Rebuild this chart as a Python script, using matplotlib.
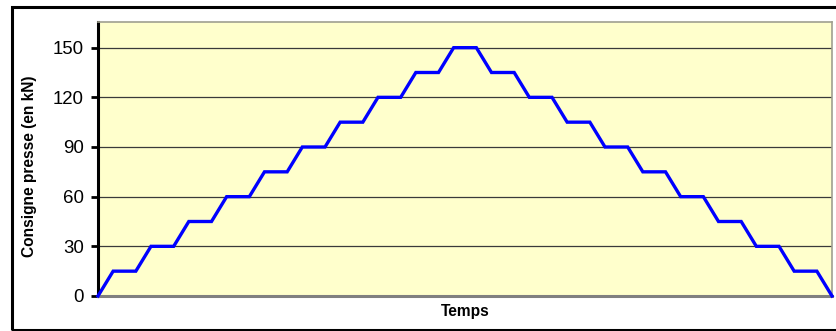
import matplotlib
matplotlib.use('Agg')
import matplotlib.pyplot as plt
from matplotlib.patches import Rectangle

plt.rcParams['font.family'] = ['Liberation Sans', 'DejaVu Sans']

# press set-point: ramp 2 units, hold 3 units, 15 kN per step up to 150 and back
temps = [0, 2, 5, 7, 10, 12, 15, 17, 20, 22, 25, 27, 30, 32, 35, 37, 40, 42, 45, 47,
         50, 52, 55, 57, 60, 62, 65, 67, 70, 72, 75, 77, 80, 82, 85, 87, 90, 92, 95, 97]
consigne = [0, 15, 15, 30, 30, 45, 45, 60, 60, 75, 75, 90, 90, 105, 105, 120, 120, 135, 135, 150,
            150, 135, 135, 120, 120, 105, 105, 90, 90, 75, 75, 60, 60, 45, 45, 30, 30, 15, 15, 0]
y_ticks = [0, 30, 60, 90, 120, 150]

W, H = 837, 331
fig = plt.figure(figsize=(W / 100, H / 100), dpi=100)
fig.patch.set_facecolor('white')

# outer chart frame
fig.add_artist(Rectangle((12 / W, 1.5 / H), 1.0, (H - 8.5) / H, transform=fig.transFigure,
                         fill=False, edgecolor='black', linewidth=2.2, clip_on=False))

left, right, top, bottom = 98, 832, 22, 296
ax = fig.add_axes([left / W, (H - bottom) / H, (right - left) / W, (bottom - top) / H])
ax.set_facecolor('#FFFFCC')

ax.plot(temps, consigne, color='#0000FF', linewidth=2.4, solid_joinstyle='miter', zorder=3,
        clip_on=False)

ax.set_xlim(temps[0], temps[-1])
ax.set_ylim(0, 165.5)
ax.set_yticks(y_ticks)
ax.set_xticks([])
ax.yaxis.grid(True, color='#3a3a3a', linewidth=0.9)
ax.set_axisbelow(True)

ax.tick_params(axis='y', direction='out', length=5, width=2, labelsize=13.4, pad=5,
               colors='black')
for s in ('top', 'right'):
    ax.spines[s].set_color('#a0a090')
    ax.spines[s].set_linewidth(1.2)
ax.spines['bottom'].set_color('#808080')
ax.spines['bottom'].set_linewidth(2.2)
ax.spines['left'].set_color('black')
ax.spines['left'].set_linewidth(2.2)

ax.set_ylabel('Consigne presse (en kN)', fontsize=11.2, fontweight='bold')
ax.yaxis.set_label_coords(-0.083, 0.474)
ax.set_xlabel('Temps', fontsize=11.2, fontweight='bold', labelpad=6)

fig.savefig('out.png', dpi=100)
